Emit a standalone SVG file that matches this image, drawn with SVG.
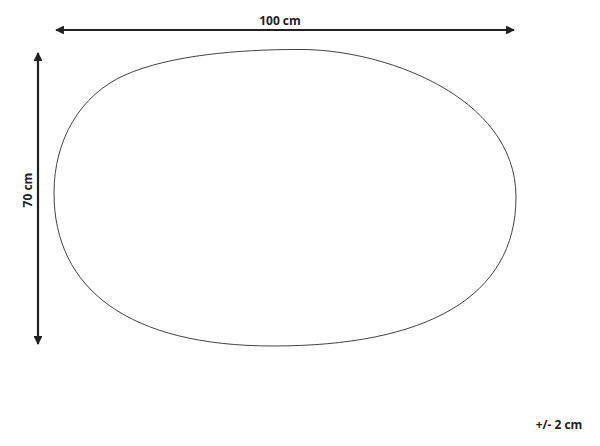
<svg xmlns="http://www.w3.org/2000/svg" width="600" height="446" viewBox="0 0 600 446">
<style>
.dim{stroke:#222;stroke-width:2.2;fill:none}
.lbl{font-family:"Open Sans","Liberation Sans",sans-serif;font-weight:bold;font-size:12px;fill:#222}
</style>
<defs>
<marker id="ah" viewBox="0 0 10 10" refX="9" refY="5" markerWidth="4" markerHeight="4" orient="auto-start-reverse" markerUnits="strokeWidth">
<path d="M0,0 L10,5 L0,10 z" fill="#222"/>
</marker>
</defs>
<rect width="600" height="446" fill="#fff"/>
<g id="shape">
<path d="M54,193 C54,140 80,95 125,75 C170,55 240,49.5 297,49.5 C380,48 516,95 516,197 C516,298 425,346 273,346 C130,346 54,290 54,193 Z" fill="none" stroke="#444" stroke-width="1"/>
</g>
<g id="connectors">
<line class="dim" x1="56" y1="30" x2="514" y2="30" marker-start="url(#ah)" marker-end="url(#ah)"/>
<line class="dim" x1="38" y1="53" x2="38" y2="344" marker-start="url(#ah)" marker-end="url(#ah)"/>
</g>
<g id="labels">
<text class="lbl" x="280" y="25" text-anchor="middle">100 cm</text>
<text class="lbl" transform="translate(32,190) rotate(-90)" text-anchor="middle">70 cm</text>
<text class="lbl" x="559" y="429" text-anchor="middle" font-size="11">+/- 2 cm</text>
</g>
</svg>
